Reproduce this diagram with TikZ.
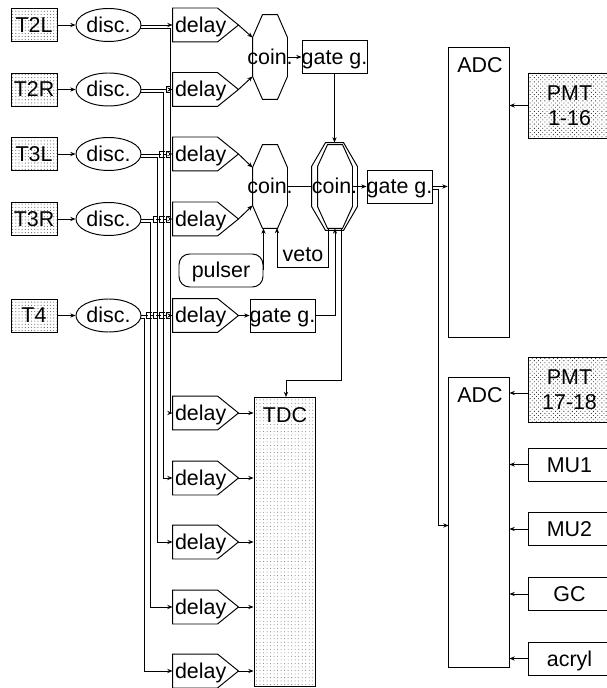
\documentclass[tikz,border=0pt]{standalone}
\usepackage{fontspec}
\setmainfont{Liberation Sans}
\usetikzlibrary{calc,arrows.meta,patterns.meta,shapes.geometric}
\tikzset{
  lab/.style={text height=.36cm,text depth=.06cm},
  box/.style={lab,draw,rectangle,inner sep=0pt,inner xsep=-.04cm,minimum width=1.3cm,minimum height=.66cm},
  trig/.style={box,minimum width=.92cm,pattern={Dots[distance=1.8pt,radius=.32pt]},pattern color=black!60},
  pmt/.style={box,text height=,text depth=,font=\fontsize{12.2}{14.2}\selectfont,minimum width=1.66cm,minimum height=1.3cm,align=center,pattern={Dots[distance=1.7pt,radius=.35pt,angle=45]},pattern color=black!75},
  input/.style={box,minimum width=1.66cm},
  disc/.style={lab,draw,ellipse,inner sep=0pt,minimum width=1.3cm,minimum height=.66cm},
  dly/.style={lab,rectangle,inner sep=0pt,inner xsep=.04cm,text width=1.22cm,align=left,minimum height=.66cm,
    append after command={\pgfextra{\draw(\tikzlastnode.north west)--($(\tikzlastnode.north east)+(-21,0)$)--(\tikzlastnode.east)
      --($(\tikzlastnode.south east)+(-21,0)$)--(\tikzlastnode.south west)--cycle;}}},
  coin/.style={lab,rectangle,inner sep=0pt,inner xsep=-.14cm,minimum width=.68cm,minimum height=1.68cm},
  sig/.style={-{Stealth[length=3pt,width=2.4pt]}}
}
% octagon round a coin node: name, corner x, corner y
\newcommand{\octa}[3]{
  \draw ($(#1.north west)+(#2,0)$)--($(#1.north east)+(-#2,0)$)--($(#1.north east)+(0,#3)$)
    --($(#1.south east)+(0,-#3)$)--($(#1.south east)+(-#2,0)$)--($(#1.south west)+(#2,0)$)
    --($(#1.south west)+(0,-#3)$)--($(#1.north west)+(0,#3)$)--cycle;
  \coordinate(#1nw)at($(#1.north west)+(0,#3)$);
  \coordinate(#1sw)at($(#1.south west)+(0,-#3)$);
}
% line hop where a signal crosses a bus
\newcommand{\hop}[2]{
  \draw[white,line width=.9pt]($(#1 |- #2.east)+(-2.8,0)$)--++(2.1,0);
  \draw ($(#1 |- #2.east)+(1.4,-3)$)--++(-5,0)--++(0,6)--++(5,0);}
\begin{document}
\begin{tikzpicture}[x=.02cm,y=-.02cm,line width=.55pt,font=\fontsize{12.2}{14.2}\selectfont]
  \useasboundingbox(0,0)rectangle(607,688);
  % triggers
  \node[trig](t2l)at(34,25){T2L};
  \node[trig](t2r)at(34,89.5){T2R};
  \node[trig](t3l)at(34,154){T3L};
  \node[trig](t3r)at(34,219){T3R};
  \node[trig](t4)at(34,315.5){T4};
  \node[disc](d2l)at(108.5,25){disc.};
  \node[disc](d2r)at(108.5,89.5){disc.};
  \node[disc](d3l)at(108.5,154){disc.};
  \node[disc](d3r)at(108.5,219){disc.};
  \node[disc](d4)at(108.5,315.5){disc.};
  \node[dly](y2l)at(205.5,25){delay};
  \node[dly](y2r)at(205.5,89.5){delay};
  \node[dly](y3l)at(205.5,154){delay};
  \node[dly](y3r)at(205.5,219){delay};
  \node[dly](y4)at(205.5,315.5){delay};
  \node[dly](z1)at(205.5,413){delay};
  \node[dly](z2)at(205.5,478){delay};
  \node[dly](z3)at(205.5,542){delay};
  \node[dly](z4)at(205.5,607){delay};
  \node[dly](z5)at(205.5,671){delay};
  % logic
  \node[coin](coina)at(270,57){coin.};
  \node[coin,minimum height=1.66cm](coinb)at(270,186.5){coin.};
  \node[coin,minimum width=.9cm,minimum height=1.74cm](coinc)at(334.5,186.5){coin.};
  \node[coin,minimum width=.68cm,minimum height=1.66cm](coind)at(335,186.5){};
  \octa{coina}{10}{23}
  \octa{coinb}{10}{23}
  \octa{coinc}{14}{24}
  \octa{coind}{10}{22}
  \node[box](ga)at(334.5,57){gate g.};
  \node[box](gb)at(399.5,186.5){gate g.};
  \node[box](gc)at(282.5,315.5){gate g.};
  \node[lab,draw,rectangle,rounded corners=6pt,inner sep=0pt,minimum width=1.68cm,minimum height=.66cm](pulser)at(221,270.5){pulser};
  \node[lab,inner sep=0pt](veto)at(303,254){veto};
  % readout
  \node[draw,pattern={Dots[distance=2pt,radius=.27pt]},pattern color=black!55,rectangle,inner sep=0pt,minimum width=1.22cm,minimum height=5.8cm](tdc)at(284.5,542){};
  \node[lab,inner sep=0pt](tdct)at(285,415){TDC};
  \node[draw,rectangle,inner sep=0pt,minimum width=1.22cm,minimum height=5.82cm](adca)at(478.5,192.5){};
  \node[lab,inner sep=0pt](adcat)at(480,65){ADC};
  \node[draw,rectangle,inner sep=0pt,minimum width=1.22cm,minimum height=5.82cm](adcb)at(478.5,522.5){};
  \node[lab,inner sep=0pt](adcbt)at(480,395){ADC};
  \node[pmt](pa)at(569.5,105.5){PMT\\1-16};
  \node[pmt](pb)at(569.5,389.5){PMT\\17-18};
  \node[input](mua)at(569.5,464.5){MU1};
  \node[input](mub)at(569.5,529){MU2};
  \node[input](gcc)at(569.5,594){GC};
  \node[input](acryl)at(569.5,658.5){acryl};
  % buses down to the TDC delays
  \coordinate(busa)at(170,0);
  \coordinate(busb)at(163.5,0);
  \coordinate(busc)at(157,0);
  \coordinate(busd)at(150.5,0);
  \coordinate(buse)at(144,0);
  \draw[sig](t2l)--(d2l);
  \draw[sig](t2r)--(d2r);
  \draw[sig](t3l)--(d3l);
  \draw[sig](t3r)--(d3r);
  \draw[sig](t4)--(d4);
  \draw[sig](d2l.east)--(y2l.west);
  \draw[sig](d2r.east)--(y2r.west);
  \draw[sig](d3l.east)--(y3l.west);
  \draw[sig](d3r.east)--(y3r.west);
  \draw[sig](d4.east)--(y4.west);
  \draw[sig]($(d2l.east)+(0,3)$)-|(busa |- z1.west)--(z1.west);
  \draw[sig]($(d2r.east)+(0,3)$)-|(busb |- z2.west)--(z2.west);
  \draw[sig]($(d3l.east)+(0,3)$)-|(busc |- z3.west)--(z3.west);
  \draw[sig]($(d3r.east)+(0,3)$)-|(busd |- z4.west)--(z4.west);
  \draw[sig]($(d4.east)+(0,3)$)-|(buse |- z5.west)--(z5.west);
  \hop{busa}{d2r}
  \hop{busa}{d3l}
  \hop{busb}{d3l}
  \hop{busa}{d3r}
  \hop{busb}{d3r}
  \hop{busc}{d3r}
  \hop{busa}{d4}
  \hop{busb}{d4}
  \hop{busc}{d4}
  \hop{busd}{d4}
  \draw[sig](y2l.east)--(coinanw);
  \draw[sig](y2r.east)--(coinasw);
  \draw[sig](y3l.east)--(coinbnw);
  \draw[sig](y3r.east)--(coinbsw);
  \draw[sig](y4.east)--(gc.west);
  \draw[sig](z1.east)--(z1.east -| tdc.west);
  \draw[sig](z2.east)--(z2.east -| tdc.west);
  \draw[sig](z3.east)--(z3.east -| tdc.west);
  \draw[sig](z4.east)--(z4.east -| tdc.west);
  \draw[sig](z5.east)--(z5.east -| tdc.west);
  \draw[sig](coina.east)--(ga.west);
  \draw[sig](ga.south)--(ga.south |- coinc.north);
  \draw(coinb.east)--(coinc.west);
  \draw[sig](coind.east)--(gb.west);
  \draw[sig](gb.east)--(gb.east -| adca.west);
  \draw[sig]($(gb.east)+(0,3)$)-|(438,525.5)--(448.5,525.5);
  \draw[sig](gc.east)-|(coind.south);
  \draw[sig](pulser.east)--(pulser.east |- coinb.south);
  \draw[sig](328,228)|-(277,267)--(277,228);
  \draw[sig](341,228)|-(286,380)--(286,397);
  \draw[sig](pa.west)--(pa.west -| adca.east);
  \draw[sig](528,393)--(509.5,393);
  \draw[sig](mua.west)--(mua.west -| adcb.east);
  \draw[sig](mub.west)--(mub.west -| adcb.east);
  \draw[sig](gcc.west)--(gcc.west -| adcb.east);
  \draw[sig](acryl.west)--(acryl.west -| adcb.east);
\end{tikzpicture}
\end{document}
